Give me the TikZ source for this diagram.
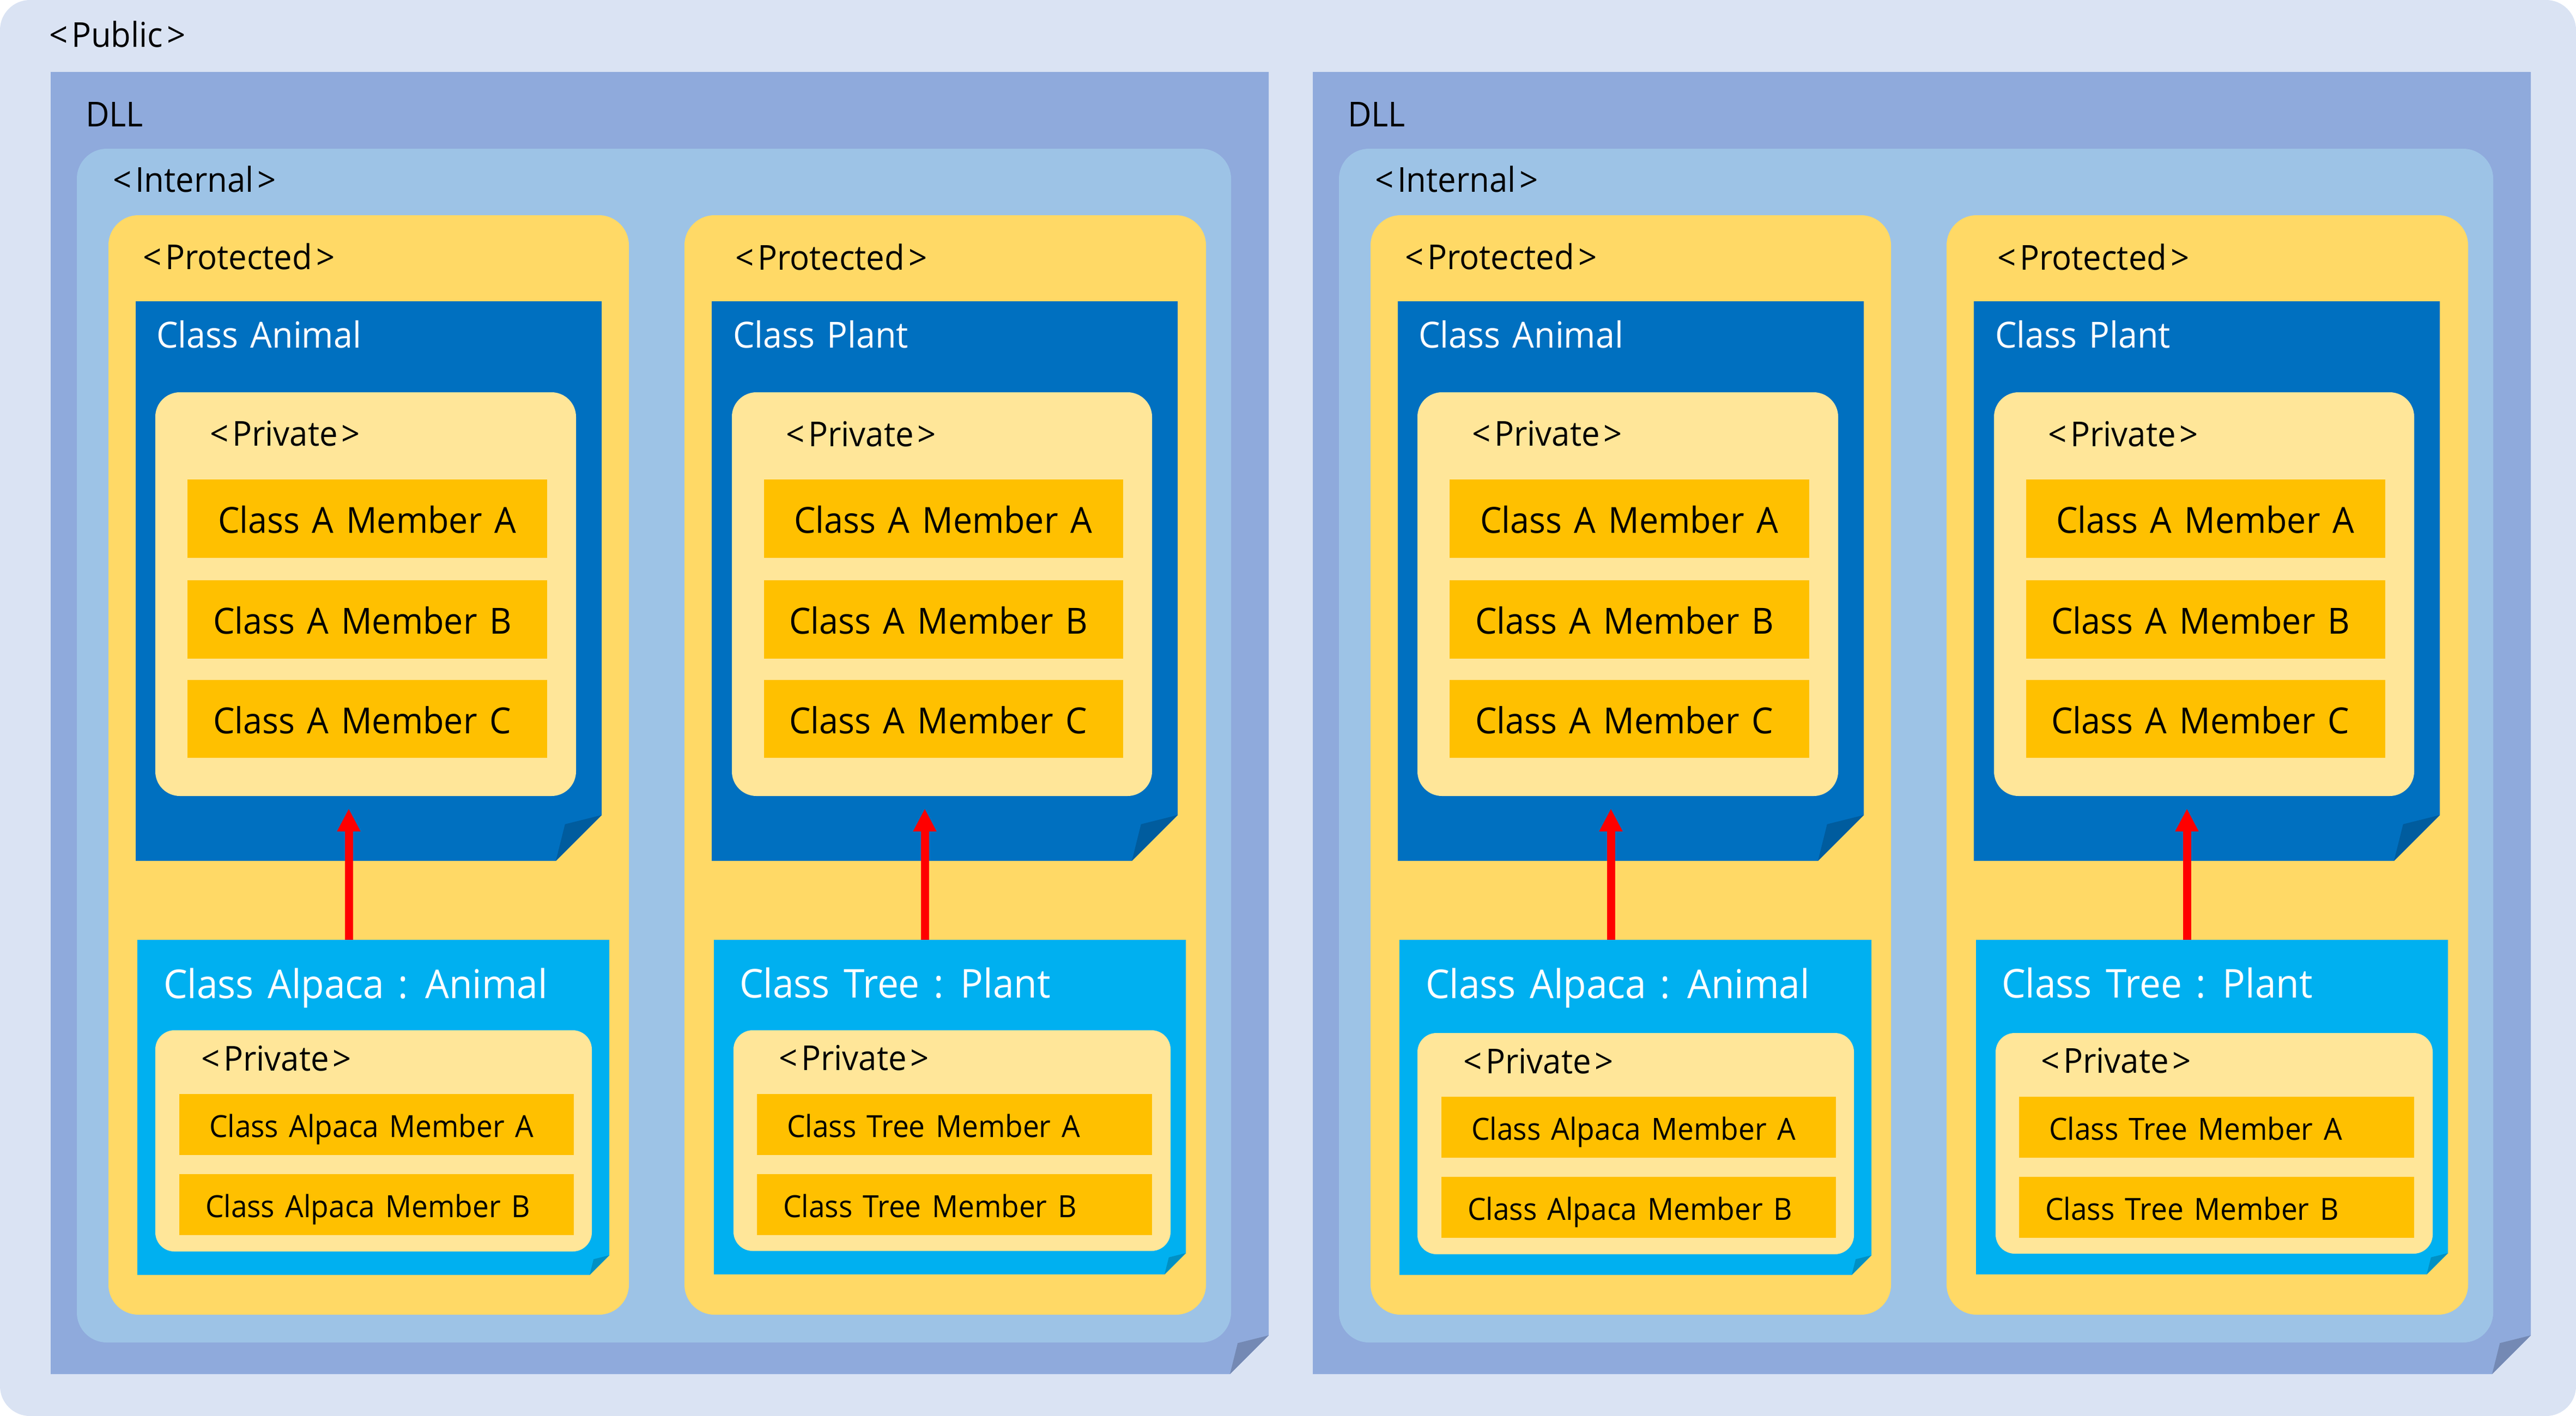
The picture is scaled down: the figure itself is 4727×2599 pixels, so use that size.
\documentclass[tikz,border=0pt]{standalone}
\usepackage{fontspec}
\setmainfont{Open Sans}[WordSpace=1.4, FakeStretch=0.95]
\usetikzlibrary{arrows.meta}
\definecolor{cPublic}{HTML}{DAE3F3}
\definecolor{cDLL}{HTML}{8FAADC}
\definecolor{cDLLflap}{HTML}{7489B4}
\definecolor{cInternal}{HTML}{9DC3E6}
\definecolor{cProt}{HTML}{FFD966}
\definecolor{cBase}{HTML}{0070C0}
\definecolor{cBaseflap}{HTML}{005C9E}
\definecolor{cDerived}{HTML}{00B0F0}
\definecolor{cDerivedflap}{HTML}{0090C4}
\definecolor{cPriv}{HTML}{FFE699}
\definecolor{cMember}{HTML}{FFC000}
\newcommand{\ang}[1]{<\kern7pt#1\kern7pt>}
\tikzset{
  lbl/.style={anchor=base west, inner sep=0pt, outer sep=0pt, font=\fontsize{63}{70}\selectfont},
  ttl/.style={anchor=base west, inner sep=0pt, outer sep=0pt, text=white, font=\fontsize{66}{74}\selectfont},
  dttl/.style={anchor=base west, inner sep=0pt, outer sep=0pt, text=white, font=\fontsize{73}{80}\selectfont},
  mem/.style={anchor=base west, inner sep=0pt, outer sep=0pt, font=\fontsize{66}{72}\selectfont},
  smem/.style={anchor=base west, inner sep=0pt, outer sep=0pt, font=\fontsize{56}{62}\selectfont},
  arr/.style={draw=red, line width=15pt, -{Triangle[width=40pt,length=42pt]}},
}
% name, x1, y1, x2, y2, style
\newcommand{\rbox}[6]{\node[#6, anchor=north west, inner sep=0pt, outer sep=0pt,
  minimum width={((#4)-(#2))*1pt}, minimum height={((#5)-(#3))*1pt}] (#1) at (#2,#3) {};}
% name, x1, y1, x2, y2, fill, flap, fold size
\newcommand{\foldbox}[8]{%
  \node[anchor=north west, inner sep=0pt, outer sep=0pt,
    minimum width={((#4)-(#2))*1pt}, minimum height={((#5)-(#3))*1pt}] (#1) at (#2,#3) {};
  \fill[#6] (#2,#3) -- (#4,#3) -- (#4,#5-#8) -- (#4-#8,#5) -- (#2,#5) -- cycle;
  \fill[#7] (#4-#8,#5) -- (#4-0.8*#8,#5-0.8*#8) -- (#4,#5-#8) -- cycle;}
% prefix, xshift, dy of lower private groups
\newcommand{\dllpanel}[3]{%
\begin{scope}[xshift=#2]
  \foldbox{#1-dll}{93}{132}{2328}{2522}{cDLL}{cDLLflap}{71}
  \node[lbl] (#1-dlltxt) at (157,232) {DLL};
  \rbox{#1-int}{141}{273}{2259}{2464}{fill=cInternal, rounded corners=55pt}
  \node[lbl] (#1-inttxt) at (207,352) {\ang{Internal}};
  % ---------- Animal column
  \rbox{#1-protA}{199}{395}{1154}{2413}{fill=cProt, rounded corners=55pt}
  \node[lbl] (#1-protAtxt) at (262,494) {\ang{Protected}};
  \foldbox{#1-animal}{249}{553}{1104}{1580}{cBase}{cBaseflap}{84}
  \node[ttl] (#1-animaltxt) at (287,638) {Class Animal};
  \rbox{#1-privA}{285}{720}{1057}{1461}{fill=cPriv, rounded corners=45pt}
  \node[lbl] (#1-privAtxt) at (385,818) {\ang{Private}};
  \rbox{#1-mAa}{344}{880}{1004}{1024}{fill=cMember}
  \node[mem] (#1-mAatxt) at (400,978) {Class A Member A};
  \rbox{#1-mAb}{344}{1065}{1004}{1209}{fill=cMember}
  \node[mem] (#1-mAbtxt) at (391,1163) {Class A Member B};
  \rbox{#1-mAc}{344}{1248}{1004}{1391}{fill=cMember}
  \node[mem] (#1-mActxt) at (391,1346) {Class A Member C};
  \foldbox{#1-alpaca}{252}{1725}{1118}{2340}{cDerived}{cDerivedflap}{36}
  \node[dttl] (#1-alpacatxt) at (300,1832) {Class Alpaca : Animal};
  \rbox{#1-privAl}{285}{1891+#3}{1086}{2297+#3}{fill=cPriv, rounded corners=35pt}
  \node[lbl] (#1-privAltxt) at (369,1965+#3) {\ang{Private}};
  \rbox{#1-mAla}{329}{2008+#3}{1053}{2120+#3}{fill=cMember}
  \node[smem] (#1-mAlatxt) at (384,2087+#3) {Class Alpaca Member A};
  \rbox{#1-mAlb}{329}{2155+#3}{1053}{2267+#3}{fill=cMember}
  \node[smem] (#1-mAlbtxt) at (377,2234+#3) {Class Alpaca Member B};
  \coordinate (#1-tipA) at (640,1484);
  \draw[arr] (#1-tipA |- #1-alpaca.north) -- (#1-tipA);
  % ---------- Plant column
  \rbox{#1-protP}{1256}{395}{2213}{2413}{fill=cProt, rounded corners=55pt}
  \node[lbl] (#1-protPtxt) at (1349,495) {\ang{Protected}};
  \foldbox{#1-plant}{1306}{553}{2161}{1580}{cBase}{cBaseflap}{84}
  \node[ttl] (#1-planttxt) at (1345,638) {Class Plant};
  \rbox{#1-privP}{1343}{720}{2114}{1461}{fill=cPriv, rounded corners=45pt}
  \node[lbl] (#1-privPtxt) at (1442,819) {\ang{Private}};
  \rbox{#1-mPa}{1402}{880}{2061}{1024}{fill=cMember}
  \node[mem] (#1-mPatxt) at (1457,978) {Class A Member A};
  \rbox{#1-mPb}{1402}{1065}{2061}{1209}{fill=cMember}
  \node[mem] (#1-mPbtxt) at (1448,1163) {Class A Member B};
  \rbox{#1-mPc}{1402}{1248}{2061}{1391}{fill=cMember}
  \node[mem] (#1-mPctxt) at (1448,1346) {Class A Member C};
  \foldbox{#1-tree}{1310}{1725}{2176}{2339}{cDerived}{cDerivedflap}{39}
  \node[dttl] (#1-treetxt) at (1357,1831) {Class Tree : Plant};
  \rbox{#1-privT}{1346}{1891+#3}{2148}{2296+#3}{fill=cPriv, rounded corners=35pt}
  \node[lbl] (#1-privTtxt) at (1429,1964+#3) {\ang{Private}};
  \rbox{#1-mTa}{1389}{2008+#3}{2114}{2120+#3}{fill=cMember}
  \node[smem] (#1-mTatxt) at (1444,2087+#3) {Class Tree Member A};
  \rbox{#1-mTb}{1389}{2155+#3}{2114}{2267+#3}{fill=cMember}
  \node[smem] (#1-mTbtxt) at (1437,2234+#3) {Class Tree Member B};
  \coordinate (#1-tipP) at (1697,1484);
  \draw[arr] (#1-tipP |- #1-tree.north) -- (#1-tipP);
\end{scope}}
\begin{document}
\begin{tikzpicture}[x=1pt,y=-1pt]
\useasboundingbox (0,0) rectangle (4727,2599);
\fill[cPublic, rounded corners=55pt] (0,0) rectangle (4727,2599);
\node[lbl] (public) at (90,86) {\ang{Public}};
\dllpanel{L}{0pt}{0}
\dllpanel{R}{2316pt}{5}
\end{tikzpicture}
\end{document}
